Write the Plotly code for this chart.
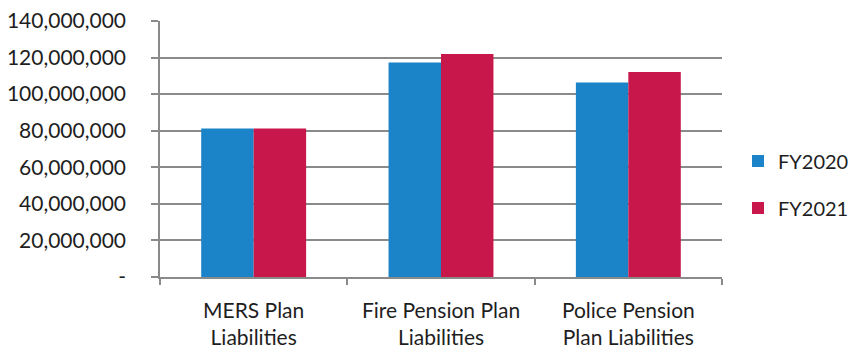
import plotly.graph_objects as go

# Pension plan liabilities by fiscal year
categories = ["MERS Plan<br>Liabilities", "Fire Pension Plan<br>Liabilities", "Police Pension<br>Plan Liabilities"]
fy2020 = [81_200_000, 117_300_000, 106_400_000]
fy2021 = [81_200_000, 121_900_000, 112_100_000]

y_tick_vals = [0, 20_000_000, 40_000_000, 60_000_000, 80_000_000, 100_000_000, 120_000_000, 140_000_000]
y_tick_text = ["-", "20,000,000", "40,000,000", "60,000,000", "80,000,000", "100,000,000", "120,000,000", "140,000,000"]

FONT = "Lato"
GRID = "#8a8a8a"

fig = go.Figure()
fig.add_bar(name="FY2020", x=categories, y=fy2020, marker_color="#1b84c9",
            marker_line_width=0, legendgroup="a")
fig.add_bar(name="FY2021", x=categories, y=fy2021, marker_color="#c8184b",
            marker_line_width=0, legendgroup="b")

fig.update_layout(
    width=854, height=348,
    margin=dict(l=160, r=132, t=21, b=71),
    paper_bgcolor="white", plot_bgcolor="white",
    barmode="group", bargap=0.44, bargroupgap=0,
    font=dict(family=FONT, size=20, color="#1e1e1e"),
    legend=dict(xref="container", yref="container", x=1.0, xanchor="right",
                y=0.47, yanchor="middle",
                font=dict(size=20), tracegroupgap=18,
                itemwidth=30, bgcolor="rgba(0,0,0,0)"),
    showlegend=True,
)
fig.update_xaxes(
    showline=True, linecolor=GRID, linewidth=1.5, automargin=False,
    ticks="outside", tickson="boundaries", ticklen=6, tickcolor=GRID, tickwidth=1.5,
    showgrid=False, tickfont=dict(size=21), ticklabelstandoff=14,
)
fig.update_yaxes(
    range=[0, 140_000_000], tickvals=y_tick_vals, ticktext=y_tick_text,
    showline=True, linecolor=GRID, linewidth=1.5, automargin=False,
    ticks="outside", ticklen=7, tickcolor=GRID, tickwidth=1.5,
    showgrid=True, gridcolor=GRID, gridwidth=1.5,
    zeroline=False, tickfont=dict(size=21), ticklabelstandoff=21,
)

fig.write_html("out.html")
